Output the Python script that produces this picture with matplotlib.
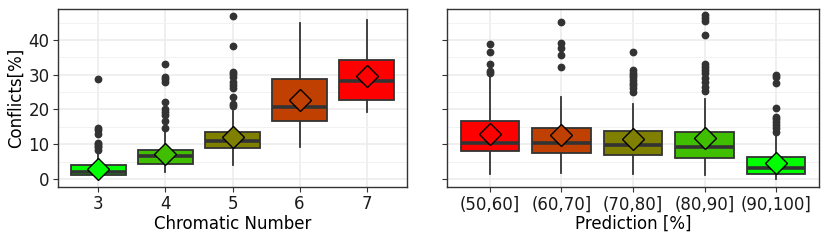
import matplotlib
matplotlib.use('Agg')
import matplotlib.pyplot as plt
from matplotlib.ticker import MultipleLocator

# Left panel: conflicts by chromatic number (box stats)
chrom_labels = ['3', '4', '5', '6', '7']
chrom_q1 = [1.15, 4.3, 9.0, 16.6, 22.7]
chrom_med = [1.9, 6.7, 10.8, 20.7, 28.3]
chrom_q3 = [4.1, 8.4, 13.6, 28.7, 34.3]
chrom_lo = [0.0, 1.9, 4.0, 9.3, 19.2]
chrom_hi = [7.8, 13.6, 19.6, 45.0, 45.6]
chrom_mean = [2.9, 7.3, 12.2, 22.7, 29.7]
chrom_fliers = [
    [28.8, 14.8, 14.2, 12.9, 10.5, 10.0, 9.6, 9.1, 8.3],
    [33.1, 29.4, 28.8, 27.8, 22.1, 20.1, 19.2, 18.4, 16.8, 14.6],
    [46.8, 38.4, 30.9, 30.1, 29.2, 28.0, 27.1, 26.3, 23.7, 21.5, 21.0],
    [],
    [],
]
chrom_colors = ['#00FF00', '#40BF00', '#808000', '#BF4000', '#FF0000']

# Right panel: conflicts by prediction confidence
pred_labels = ['(50,60]', '(60,70]', '(70,80]', '(80,90]', '(90,100]']
pred_q1 = [8.0, 7.4, 6.9, 5.9, 1.5]
pred_med = [10.5, 10.3, 9.7, 9.3, 3.2]
pred_q3 = [16.7, 14.7, 13.8, 13.6, 6.2]
pred_lo = [1.3, 1.6, 1.3, 1.1, 0.0]
pred_hi = [29.4, 23.7, 21.6, 23.0, 13.1]
pred_mean = [12.9, 12.7, 11.6, 11.9, 4.6]
pred_fliers = [
    [38.8, 36.6, 33.1, 31.1, 30.4],
    [45.2, 39.2, 37.6, 35.6, 32.3],
    [36.4, 31.4, 30.6, 29.9, 29.2, 28.5, 27.7, 27.0, 26.1, 25.1],
    [47.2, 46.2, 45.5, 41.3, 33.0, 32.3, 31.4, 30.4, 29.0, 28.0, 26.4, 25.3],
    [29.9, 29.2, 27.7, 20.3, 17.9, 17.2, 16.4, 15.5, 14.6, 13.6],
]
pred_colors = ['#FF0000', '#BF4000', '#808000', '#40BF00', '#00FF00']

DARK = '#333333'
FS = 12


def draw_panel(ax, labels, q1, med, q3, lo, hi, mean, fliers, colors):
    stats = []
    for i in range(len(labels)):
        stats.append({'q1': q1[i], 'med': med[i], 'q3': q3[i],
                      'whislo': lo[i], 'whishi': hi[i], 'mean': mean[i],
                      'fliers': fliers[i], 'label': labels[i]})
    pos = list(range(1, len(labels) + 1))
    bp = ax.bxp(stats, positions=pos, widths=0.82, patch_artist=True,
                showcaps=False, showmeans=True, showfliers=True,
                boxprops=dict(edgecolor=DARK, linewidth=1.3),
                medianprops=dict(color=DARK, linewidth=2.6),
                whiskerprops=dict(color=DARK, linewidth=1.3),
                flierprops=dict(marker='o', markerfacecolor=DARK,
                                markeredgecolor=DARK, markersize=4.6),
                meanprops=dict(marker='D', markeredgecolor='black',
                               markersize=11, markeredgewidth=1.0))
    for patch, c in zip(bp['boxes'], colors):
        patch.set_facecolor(c)
    for m, c in zip(bp['means'], colors):
        m.set_markerfacecolor(c)
        m.set_zorder(5)

    ax.set_xlim(0.4, len(labels) + 0.6)
    ax.set_ylim(-2.3, 48.9)
    ax.yaxis.set_major_locator(MultipleLocator(10))
    ax.yaxis.set_minor_locator(MultipleLocator(5))
    ax.grid(True, which='major', color='#EBEBEB', linewidth=1.1)
    ax.grid(True, which='minor', axis='y', color='#F2F2F2', linewidth=0.7)
    ax.set_axisbelow(True)
    for s in ax.spines.values():
        s.set_color(DARK)
        s.set_linewidth(1.0)
    ax.tick_params(which='major', length=3.5, color=DARK, labelsize=FS,
                   labelcolor='#1A1A1A', pad=2.5)
    ax.tick_params(which='minor', length=0)


fig = plt.figure(figsize=(8.3, 2.41), dpi=100)
# ggplot arrangement: each plot gets half the width, so axes widths differ
ax1 = fig.add_axes([58 / 830, 54 / 241, 349 / 830, 178 / 241])
ax2 = fig.add_axes([447 / 830, 54 / 241, 372 / 830, 178 / 241], sharey=ax1)

draw_panel(ax1, chrom_labels, chrom_q1, chrom_med, chrom_q3, chrom_lo,
           chrom_hi, chrom_mean, chrom_fliers, chrom_colors)
draw_panel(ax2, pred_labels, pred_q1, pred_med, pred_q3, pred_lo,
           pred_hi, pred_mean, pred_fliers, pred_colors)

ax1.set_ylabel('Conflicts[%]', fontsize=FS, labelpad=3)
ax1.set_xlabel('Chromatic Number', fontsize=FS, labelpad=1)
ax2.set_xlabel('Prediction [%]', fontsize=FS, labelpad=1)
ax2.tick_params(axis='y', labelleft=False)

fig.savefig('out.png', dpi=100)
